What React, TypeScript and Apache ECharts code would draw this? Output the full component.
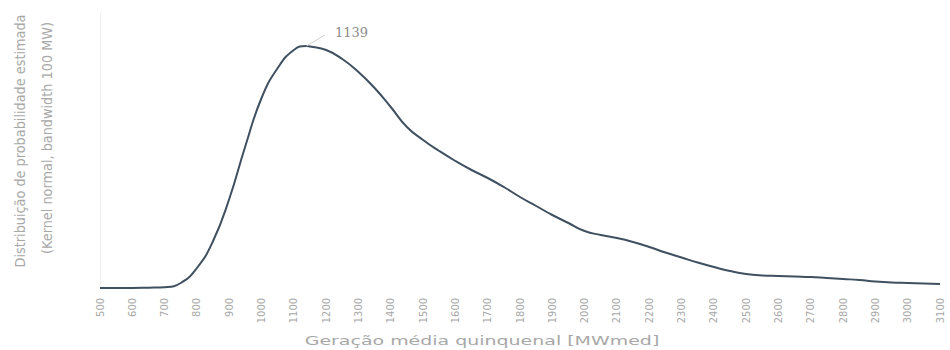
import { useEffect, useRef } from "react";
import * as echarts from "echarts";

// Kernel density estimate of the five-year mean generation (relative units)
const generationMw = [
  500, 550, 600, 650, 700, 750, 800, 850, 900, 950, 1000, 1050, 1100, 1139,
  1150, 1200, 1250, 1300, 1350, 1400, 1450, 1500, 1550, 1600, 1650, 1700,
  1750, 1800, 1850, 1900, 1950, 2000, 2050, 2100, 2150, 2200, 2250, 2300,
  2350, 2400, 2450, 2500, 2550, 2600, 2650, 2700, 2750, 2800, 2850, 2900,
  2950, 3000, 3050, 3100,
];
const density = [
  0, 0, 0, 0.3, 0.8, 5, 20, 47, 89, 142, 190, 220, 238, 242,
  241.5, 238, 229, 216, 200, 181, 161, 148, 137, 127, 118, 110,
  101, 91, 82, 73, 65, 57, 53, 50, 46, 41, 35.5, 30.5,
  25.5, 21, 17, 14, 12.5, 12, 11.5, 11, 10, 9, 8, 6.5,
  5.5, 5, 4.5, 4,
];

const peakMw = 1139;
const peakDensity = 242;
const peakLabel = "1139";
// end of the label leader, in data units
const leaderEnd = [1196, 253];

const xMin = 500;
const xMax = 3100;
const xStep = 100;
const yMax = 275;

const xTitle = "Geração média quinquenal [MWmed]";
const yTitleLines = [
  "Distribuição de probabilidade estimada",
  "(Kernel normal, bandwidth 100 MW)",
];

const textGray = "#a8a8a8";
const curveColor = "#3f5061";

export default function App() {
  const ref = useRef<HTMLDivElement>(null);

  useEffect(() => {
    if (!ref.current) return;
    const chart = echarts.init(ref.current, null, { renderer: "svg" });
    const points = generationMw.map((x, i) => [x, density[i]]);

    chart.setOption({
      animation: false,
      backgroundColor: "#ffffff",
      grid: { left: 100, right: 10, top: 13, bottom: 62 },
      xAxis: {
        type: "value",
        min: xMin,
        max: xMax,
        interval: xStep,
        axisLine: { show: false },
        axisTick: { show: false },
        splitLine: { show: false },
        axisLabel: {
          rotate: 90,
          margin: 10,
          color: textGray,
          fontSize: 11,
          fontFamily: "DejaVu Sans Condensed",
          formatter: (v: number) => String(v),
        },
      },
      yAxis: {
        type: "value",
        min: 0,
        max: yMax,
        axisLine: { show: true, lineStyle: { color: "#efefef", width: 1 } },
        axisTick: { show: false },
        axisLabel: { show: false },
        splitLine: { show: false },
      },
      series: [
        {
          type: "line",
          data: points,
          smooth: true,
          showSymbol: false,
          lineStyle: { color: curveColor, width: 2 },
          itemStyle: { color: curveColor },
          markPoint: {
            silent: true,
            symbol: "circle",
            symbolSize: 0,
            data: [
              {
                coord: [peakMw, peakDensity],
                label: {
                  show: true,
                  position: "top",
                  formatter: peakLabel,
                  offset: [45, -2],
                  color: "#8c8c8c",
                  fontSize: 13,
                  fontFamily: "DejaVu Serif",
                },
              },
            ],
          },
          markLine: {
            silent: true,
            symbol: ["none", "none"],
            lineStyle: { color: "#d0d0d0", width: 1, type: "solid" },
            label: { show: false },
            data: [[{ coord: [peakMw, peakDensity] }, { coord: leaderEnd }]],
          },
        },
      ],
      graphic: [
        {
          type: "text",
          x: 482,
          y: 341,
          scaleX: 1.46,
          style: {
            text: xTitle,
            fill: textGray,
            font: '13px "DejaVu Sans"',
            align: "center",
            verticalAlign: "middle",
          },
        },
        {
          type: "text",
          x: 20,
          y: 141,
          rotation: Math.PI / 2,
          style: {
            text: yTitleLines[0],
            fill: textGray,
            font: '14.3px "DejaVu Sans Condensed"',
            align: "center",
            verticalAlign: "middle",
          },
        },
        {
          type: "text",
          x: 47,
          y: 138,
          rotation: Math.PI / 2,
          style: {
            text: yTitleLines[1],
            fill: textGray,
            font: '14.3px "DejaVu Sans Condensed"',
            align: "center",
            verticalAlign: "middle",
          },
        },
      ],
    });

    return () => chart.dispose();
  }, []);

  return (
    <div
      ref={ref}
      style={{ position: "absolute", left: 0, top: 0, width: 950, height: 350 }}
    />
  );
}
